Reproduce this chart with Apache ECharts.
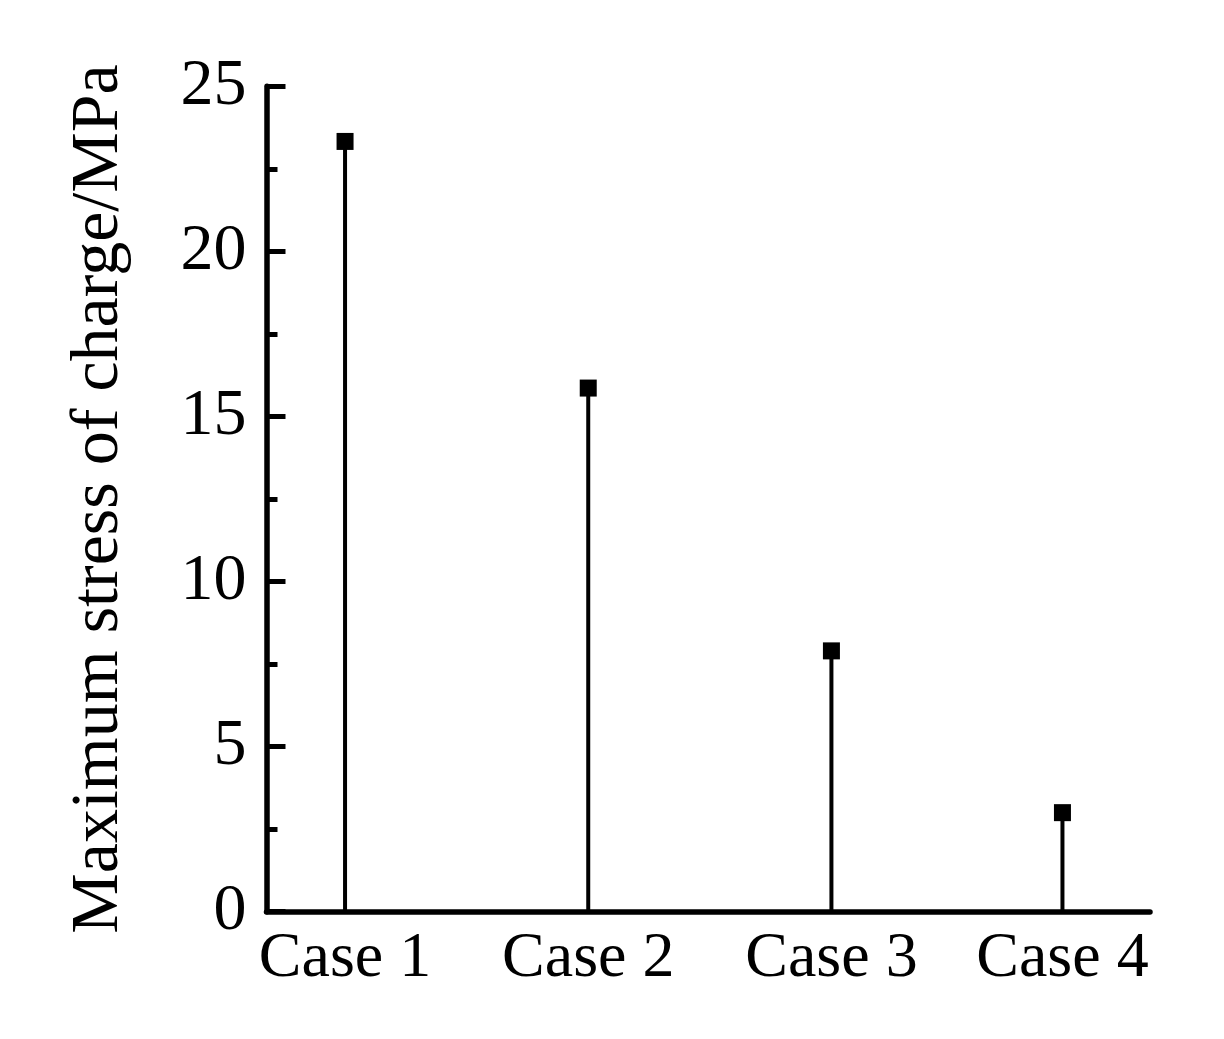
<!DOCTYPE html>
<html>
<head>
<meta charset="utf-8">
<script src="https://cdn.jsdelivr.net/npm/echarts@6/dist/echarts.min.js"></script>
<style>
html,body{margin:0;padding:0;background:#fff;}
#chart{width:1224px;height:1039px;}
</style>
</head>
<body>
<div id="chart"></div>
<script>
// Data
const categories = ['Case 1', 'Case 2', 'Case 3', 'Case 4'];
const xPositions = [1, 2, 3, 3.95];
const maxStress = [23.33, 15.86, 7.9, 3.0];
const yTicks = [0, 5, 10, 15, 20, 25];
const yTitle = 'Maximum stress of charge/MPa';

const FONT = '"Liberation Serif", "Times New Roman", serif';
const pts = xPositions.map((x, i) => [x, maxStress[i]]);

const chart = echarts.init(document.getElementById('chart'), null, {renderer: 'canvas'});
chart.setOption({
  backgroundColor: '#ffffff',
  animation: false,
  grid: {left: 266.5, right: 74, top: 86.3, bottom: 127.3, containLabel: false},
  xAxis: {
    type: 'value',
    min: 0.677,
    max: 4.31,
    splitLine: {show: false},
    axisLine: {show: true, onZero: false, lineStyle: {color: '#000', width: 5.5}},
    axisTick: {show: false},
    axisLabel: {
      customValues: xPositions,
      formatter: function (v) {
        const i = xPositions.indexOf(v);
        return i >= 0 ? categories[i] : '';
      },
      color: '#000', fontFamily: FONT, fontSize: 64, margin: 15
    }
  },
  yAxis: {
    type: 'value',
    min: yTicks[0],
    max: yTicks[yTicks.length - 1],
    interval: 5,
    name: yTitle,
    nameLocation: 'middle',
    nameGap: 133,
    nameTextStyle: {color: '#000', fontFamily: FONT, fontSize: 68},
    splitLine: {show: false},
    axisLine: {show: true, lineStyle: {color: '#000', width: 5.5}},
    axisTick: {show: true, inside: true, length: 19, lineStyle: {color: '#000', width: 5}},
    minorTick: {show: true, splitNumber: 2, length: 11, lineStyle: {color: '#000', width: 5}},
    axisLabel: {color: '#000', fontFamily: FONT, fontSize: 66, margin: 20}
  },
  series: [
    {
      type: 'bar',
      data: pts,
      barWidth: 4,
      itemStyle: {color: '#000', opacity: 1},
      silent: true
    },
    {
      type: 'scatter',
      data: pts,
      symbol: 'rect',
      symbolSize: 17,
      itemStyle: {color: '#000', opacity: 1},
      silent: true,
      z: 5
    }
  ]
});
</script>
</body>
</html>
